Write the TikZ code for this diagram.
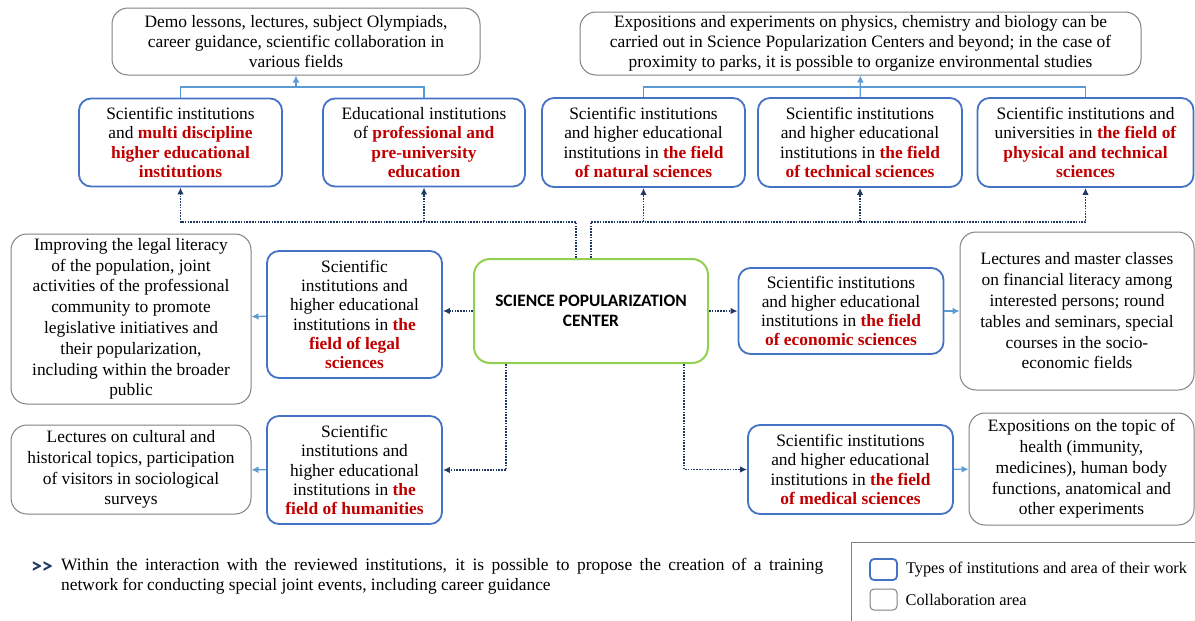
\documentclass[tikz,border=0pt]{standalone}
\usepackage{fontspec}
\setmainfont{Liberation Serif}
\newfontfamily\carlito{Carlito}
\usetikzlibrary{arrows.meta,calc,positioning}
\definecolor{instblue}{RGB}{68,114,196}
\definecolor{areagray}{RGB}{128,128,128}
\definecolor{spcgreen}{RGB}{146,208,80}
\definecolor{fieldred}{RGB}{192,0,0}
\definecolor{linknavy}{RGB}{31,56,100}
\definecolor{feedblue}{RGB}{91,155,213}
\newcommand{\fld}[1]{\textcolor{fieldred}{\textbf{#1}}}

\begin{document}
\begin{tikzpicture}[x=1pt,y=-1pt,
  inst/.style={draw=instblue,line width=1.8pt,rounded corners=12pt,align=center,inner sep=0pt,
    font=\fontsize{17.4}{19.2}\selectfont},
  area/.style={draw=areagray,line width=1pt,rounded corners=16pt,align=center,inner sep=0pt,
    font=\fontsize{17.4}{20.8}\selectfont},
  spc/.style={draw=spcgreen,line width=2pt,rounded corners=16pt,align=center,inner sep=0pt,
    font=\carlito\bfseries\fontsize{17.4}{19.4}\selectfont},
  link/.style={draw=linknavy,line width=1.8pt,dash pattern=on 1.6pt off 1.2pt,
    -{Latex[length=7pt,width=6.5pt]}},
  feed/.style={draw=feedblue,line width=1.3pt,-{Latex[length=7pt,width=7pt]}}]
        \useasboundingbox (0,0) rectangle (1195,621);
        \node[area,minimum width=368pt,minimum height=67pt,font=\fontsize{17.4}{20}\selectfont] (G1) at (296,41.5)
          {Demo lessons, lectures, subject Olympiads,\\career guidance, scientific collaboration in\\various fields};
        \node[area,minimum width=561pt,minimum height=63pt,font=\fontsize{17.4}{20}\selectfont] (G2) at (860.5,43.5)
          {Expositions and experiments on physics, chemistry and biology can be\\carried out in Science Popularization Centers and beyond; in the case of\\proximity to parks, it is possible to organize environmental studies};
        \node[inst,minimum width=203pt,minimum height=88pt] (B1) at (180.5,142.5)
          {Scientific institutions\\and \fld{multi discipline}\\\fld{higher educational}\\\fld{institutions}};
        \node[inst,minimum width=202pt,minimum height=88pt] (B2) at (424,142.5)
          {Educational institutions\\of \fld{professional and}\\\fld{pre-university}\\\fld{education}};
        \node[inst,minimum width=203pt,minimum height=89pt] (B3) at (643.5,142.5)
          {Scientific institutions\\and higher educational\\institutions in \fld{the field}\\\fld{of natural sciences}};
        \node[inst,minimum width=204pt,minimum height=89pt] (B4) at (860,142.5)
          {Scientific institutions\\and higher educational\\institutions in \fld{the field}\\\fld{of technical sciences}};
        \node[inst,minimum width=216pt,minimum height=89pt] (B5) at (1085.5,142.5)
          {Scientific institutions and\\universities in \fld{the field of}\\\fld{physical and technical}\\\fld{sciences}};
        \node[spc,minimum width=234pt,minimum height=104pt] (C) at (591,311)
          {SCIENCE POPULARIZATION\\CENTER};
        \node[inst,minimum width=175pt,minimum height=127pt] (legal) at (354.5,314.5)
          {Scientific\\institutions and\\higher educational\\institutions in \fld{the}\\\fld{field of legal}\\\fld{sciences}};
        \node[area,minimum width=240pt,minimum height=170pt] (legalg) at (131,319)
          {Improving the legal literacy\\of the population, joint\\activities of the professional\\community to promote\\legislative initiatives and\\their popularization,\\including within the broader\\public};
        \node[inst,minimum width=205pt,minimum height=86pt] (econ) at (841,311)
          {Scientific institutions\\and higher educational\\institutions in \fld{the field}\\\fld{of economic sciences}};
        \node[area,minimum width=234pt,minimum height=158pt] (econg) at (1077,311)
          {Lectures and master classes\\on financial literacy among\\interested persons; round\\tables and seminars, special\\courses in the socio-\\economic fields};
        \node[inst,minimum width=175pt,minimum height=108pt] (hum) at (354.5,470)
          {Scientific\\institutions and\\higher educational\\institutions in \fld{the}\\\fld{field of humanities}};
        \node[area,minimum width=240pt,minimum height=89pt] (humg) at (131,469.5)
          {Lectures on cultural and\\historical topics, participation\\of visitors in sociological\\surveys};
        \node[inst,minimum width=205pt,minimum height=89pt] (med) at (850.5,469.5)
          {Scientific institutions\\and higher educational\\institutions in \fld{the field}\\\fld{of medical sciences}};
        \node[area,minimum width=225pt,minimum height=112pt] (medg) at (1081.5,469)
          {Expositions on the topic of\\health (immunity,\\medicines), human body\\functions, anatomical and\\other experiments};

        \coordinate (topl) at (296,87);
        \coordinate (topr) at (860,87);
        \draw[feed,-] (B1.north) |- (topl) -| (B2.north);
        \draw[feed] (topl) -- (G1);
        \draw[feed,-] (B3.north) |- (topr) -| (B5.north);
        \draw[feed] (B4) -- (G2);

        \coordinate (spl) at ($(C.north)+(-15,0)$);
        \coordinate (busl) at (spl |- 0,222);
        \coordinate (busr) at (C.north |- busl);
        \draw[link] (spl) -- (busl) -| (B1.south);
        \draw[link] (B2.south |- busl) -- (B2.south);
        \draw[link] (C.north) -- (busr) -| (B5.south);
        \foreach \n in {B3,B4} {
          \draw[link] (\n.south |- busr) -- (\n.south);
        }
        \draw[link] (C.west) -- (C.west -| legal.east);
        \draw[link] (C.east) -- (econ.west);
        \draw[link] ($(C.south west)+(33,0)$) |- (hum.east);
        \draw[link] ($(C.south east)+(-25,0)$) |- (med.west);
        \foreach \a/\b in {legal/legalg,econ/econg,hum/humg,med/medg} {
          \draw[feed] (\a) -- (\b);
        }

        \node[text=linknavy,font=\carlito\bfseries\fontsize{22}{22}\selectfont] (chev) at (42,568) {{>}{>}};
        \node[anchor=west,text width=762pt,align=justify,inner sep=0pt,
          font=\fontsize{17.4}{20.5}\selectfont] (note) at (61,576)
          {\tolerance=10000 Within the interaction with the reviewed institutions, it is possible to propose the creation of a training\linebreak network for conducting special joint events, including career guidance};

        \draw[areagray,line width=1pt] (851,621) |- (1195,542);
        \node[inst,minimum width=27pt,minimum height=21pt,rounded corners=4pt] (keyinst) at (883.5,569.5) {};
        \node[area,minimum width=27pt,minimum height=21pt,rounded corners=4pt] (keyarea) at (883.5,599.5) {};
        \node[right=8pt of keyinst,inner sep=0pt,font=\fontsize{16.3}{18}\selectfont] (keyinsttext)
          {Types of institutions and area of their work};
        \node[right=8pt of keyarea,inner sep=0pt,font=\fontsize{16.3}{18}\selectfont] (keyareatext)
          {Collaboration area};
      \end{tikzpicture}
\end{document}
